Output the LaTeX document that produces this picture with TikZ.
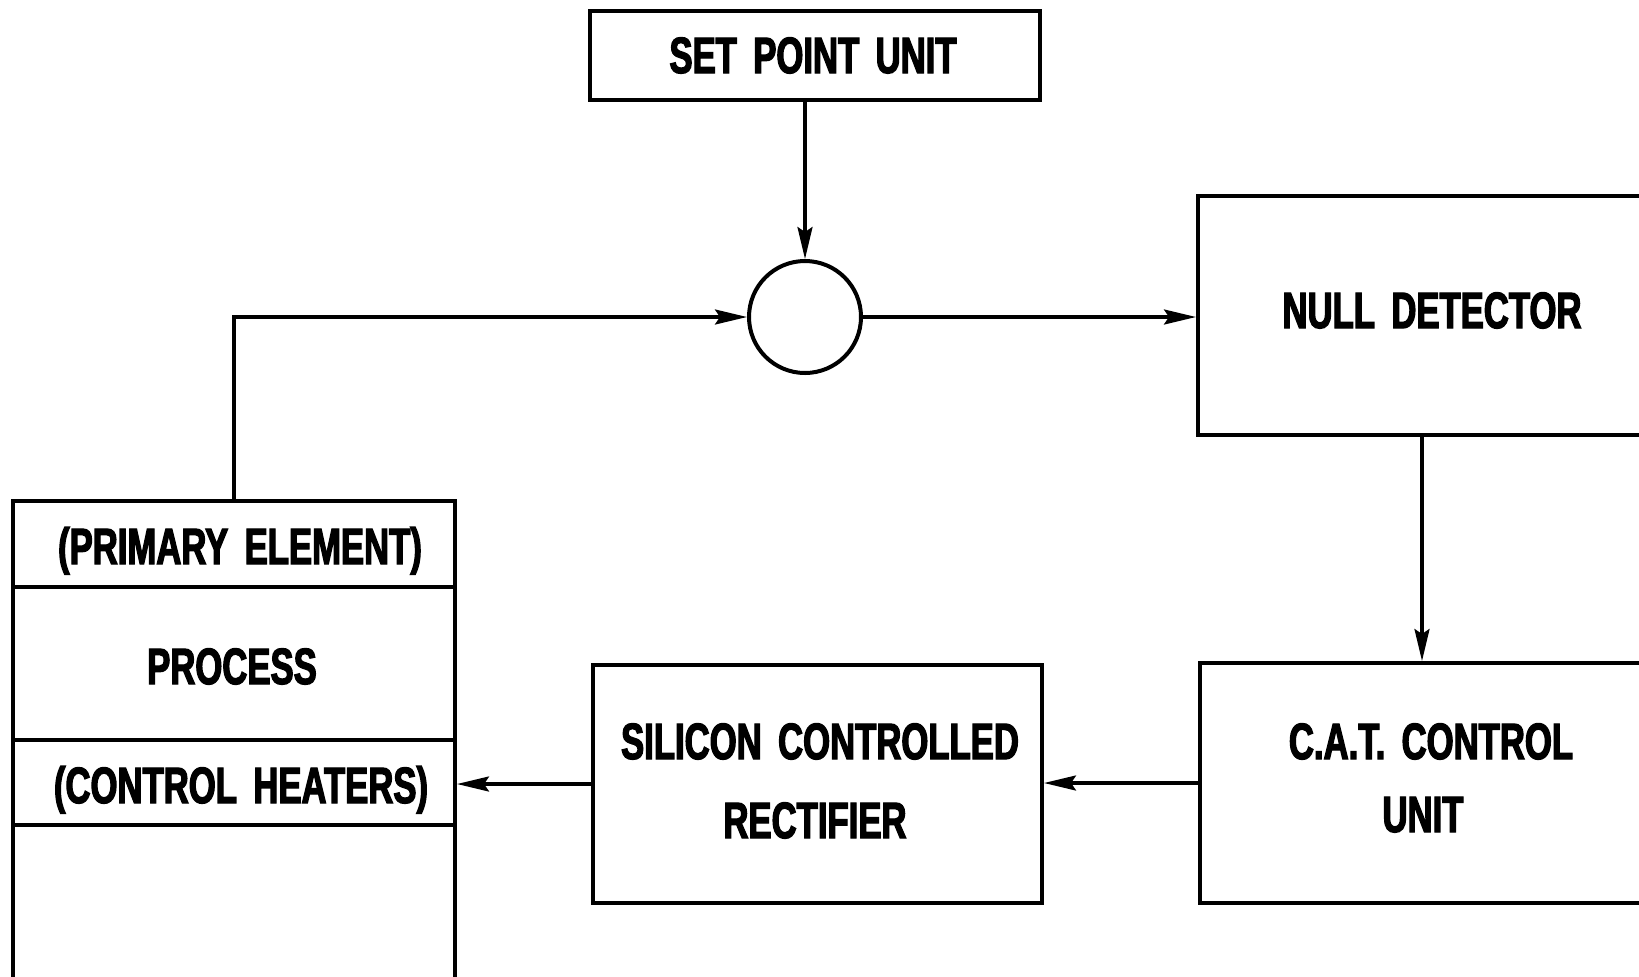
\documentclass[tikz,border=0pt]{standalone}
\usepackage{fontspec}
\newfontfamily\lblfont[FakeStretch=0.68,WordSpace=1.7,FakeBold=2.5]{Liberation Sans}
\usetikzlibrary{arrows.meta}
\begin{document}
\begin{tikzpicture}[x=0.5pt,y=-0.5pt,
  blk/.style={draw,line width=2pt,inner sep=0pt},
  lbl/.style={anchor=base,inner sep=0pt,font=\lblfont\bfseries\fontsize{25.5}{38}\selectfont},
  conn/.style={line width=1.6pt,-{Stealth[length=16pt,width=7.5pt,inset=2.5pt]}}]
\clip (0,0) rectangle (1639,976);
\fill[white] (0,0) rectangle (1639,976);
% boxes
\node[blk,minimum width=225pt,minimum height=44.5pt] (sp) at (815,55.5) {};
\node[draw,circle,line width=2pt,minimum size=56pt,inner sep=0pt] (sum) at (805,317) {};
\node[blk,minimum width=234pt,minimum height=119.5pt] (nd) at (1432,315.5) {};
\node[blk,minimum width=231pt,minimum height=120pt] (cat) at (1431,783) {};
\node[blk,minimum width=224.5pt,minimum height=119pt] (scr) at (817.5,784) {};
\node[blk,minimum width=221pt,minimum height=43pt] (prim) at (234,544) {};
\node[blk,minimum width=221pt,minimum height=76.5pt] (proc) at (234,663.5) {};
\node[blk,minimum width=221pt,minimum height=42.5pt] (heat) at (234,782.5) {};
\node[blk,minimum width=221pt,minimum height=100pt] (base) at (234,925) {};
% labels
\node[lbl] (spt) at (813,73) {SET POINT UNIT};
\node[lbl] (ndt) at (1432,328) {NULL DETECTOR};
\node[lbl] (catt1) at (1431,759) {C.A.T. CONTROL};
\node[lbl] (catt2) at (1423,832) {UNIT};
\node[lbl] (scrt1) at (820,759) {SILICON CONTROLLED};
\node[lbl] (scrt2) at (815,838) {RECTIFIER};
\node[lbl] (primt) at (240,564) {(PRIMARY ELEMENT)};
\node[lbl] (proct) at (232,684) {PROCESS};
\node[lbl] (heatt) at (241,803) {(CONTROL HEATERS)};
% connectors
\draw[conn] (sp.south -| sum.north) -- (sum.north);
\draw[conn] (prim.north) |- (sum.west);
\draw[conn] (sum.east) -- (sum.east -| nd.west);
\draw[conn] ([xshift=-5pt]nd.south) -- ([xshift=-5pt]nd.south |- cat.north);
\draw[conn] (cat.west) -- (cat.west -| scr.east);
\draw[conn] (scr.west) -- (scr.west -| heat.east);
\end{tikzpicture}
\end{document}
